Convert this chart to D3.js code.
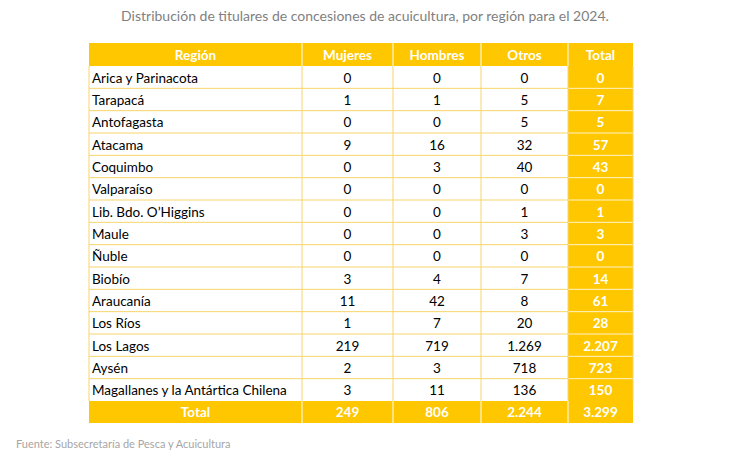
<!DOCTYPE html><html><head><meta charset="utf-8">
<script src="https://cdn.jsdelivr.net/npm/d3@7"></script>
<style>body{margin:0;background:#fff}svg{font-family:Lato,"Open Sans",sans-serif}</style></head><body>
<script>
const title="Distribución de titulares de concesiones de acuicultura, por región para el 2024.";
const source="Fuente: Subsecretaría de Pesca y Acuicultura";
const headers=["Región","Mujeres","Hombres","Otros","Total"];
const regions=["Arica y Parinacota","Tarapacá","Antofagasta","Atacama","Coquimbo","Valparaíso","Lib. Bdo. O’Higgins","Maule","Ñuble","Biobío","Araucanía","Los Ríos","Los Lagos","Aysén","Magallanes y la Antártica Chilena"];
const mujeres=[0,1,0,9,0,0,0,0,0,3,11,1,219,2,3];
const hombres=[0,1,0,16,3,0,0,0,0,4,42,7,719,3,11];
const otros=[0,5,5,32,40,0,1,3,0,7,8,20,1269,718,136];
const totals=[0,7,5,57,43,0,1,3,0,14,61,28,2207,723,150];
const totalRow=["Total",249,806,2244,3299];
const fmt=v=>typeof v==="number"?v.toString().replace(/\B(?=(\d{3})+(?!\d))/g,"."):v;
const W=729,H=470,Y="#FFC700",G="#F7D56A";
const svg=d3.select("body").append("svg").attr("width",W).attr("height",H);
svg.append("text").attr("x",365).attr("y",21).attr("text-anchor","middle").attr("font-size",14).attr("fill","#7f7f7f").text(title);
const colEdges=[89,302,393,481,568,633];
const hTop=43,hh=23,rh=(401-66)/15,th=22,fs=13.5;
const rowY=d3.scaleBand().domain(d3.range(15)).range([66,401]);
svg.append("rect").attr("x",89).attr("y",hTop).attr("width",544).attr("height",hh).attr("fill",Y);
headers.forEach((h,i)=>svg.append("text").attr("x",(colEdges[i]+colEdges[i+1])/2).attr("y",hTop+hh/2+5).attr("text-anchor","middle").attr("font-size",fs).attr("font-weight","bold").attr("fill","#fff").text(h));
svg.append("rect").attr("x",568).attr("y",66).attr("width",65).attr("height",335).attr("fill",Y);
svg.append("rect").attr("x",89).attr("y",401).attr("width",544).attr("height",th).attr("fill",Y);
const rows=regions.map((r,i)=>[r,mujeres[i],hombres[i],otros[i],totals[i]]);
rows.forEach((row,i)=>{
  const y=rowY(i);
  row.forEach((v,c)=>{
    const isT=c===4;
    svg.append("text").attr("x",c===0?colEdges[0]+3:(colEdges[c]+colEdges[c+1])/2).attr("y",y+rh/2+5.5)
      .attr("text-anchor",c===0?"start":"middle").attr("font-size",fs)
      .attr("font-weight",isT?"bold":"normal").attr("fill",isT?"#fff":"#000").text(fmt(v));
  });
  if(i<14){
  svg.append("line").attr("x1",89).attr("x2",568).attr("y1",y+rh).attr("y2",y+rh).attr("stroke",G);
  svg.append("line").attr("x1",568).attr("x2",633).attr("y1",y+rh).attr("y2",y+rh).attr("stroke","#fff").attr("stroke-width",0.8);}
});
colEdges.forEach((x,i)=>{
  if(i===0||i===5){svg.append("line").attr("x1",x).attr("x2",x).attr("y1",66).attr("y2",401).attr("stroke",G);return;}
  svg.append("line").attr("x1",x).attr("x2",x).attr("y1",hTop).attr("y2",66).attr("stroke","#fff");
  svg.append("line").attr("x1",x).attr("x2",x).attr("y1",66).attr("y2",401).attr("stroke",G);
  svg.append("line").attr("x1",x).attr("x2",x).attr("y1",401).attr("y2",423).attr("stroke","#fff");
});
totalRow.forEach((v,c)=>svg.append("text").attr("x",(colEdges[c]+colEdges[c+1])/2).attr("y",401+th/2+5).attr("text-anchor","middle").attr("font-size",fs).attr("font-weight","bold").attr("fill","#fff").text(fmt(v)));
svg.append("text").attr("x",16).attr("y",448).attr("font-size",11).attr("fill","#a6a6a6").text(source);
</script></body></html>
